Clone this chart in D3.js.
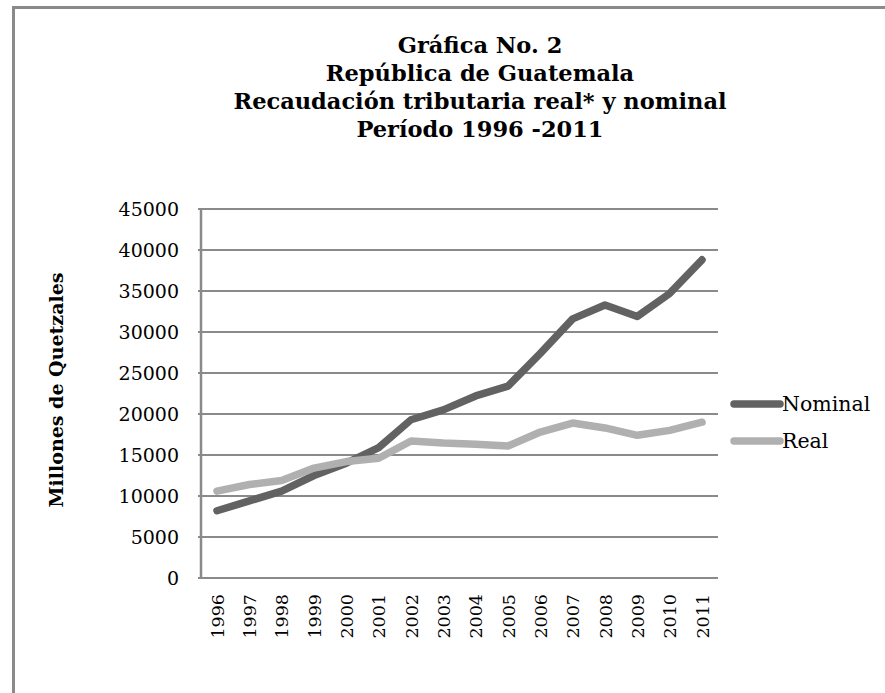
<!DOCTYPE html>
<html><head><meta charset="utf-8">
<script src="https://cdn.jsdelivr.net/npm/d3@7/dist/d3.min.js"></script>
<style>
html,body{margin:0;padding:0;background:#fff;}
svg{display:block;}
</style></head>
<body>
<script>
const years = ["1996","1997","1998","1999","2000","2001","2002","2003","2004","2005","2006","2007","2008","2009","2010","2011"];
const nominal = [8200,9400,10600,12500,14000,15900,19300,20500,22200,23400,27400,31600,33300,31900,34700,38800];
const real = [10600,11400,11900,13400,14200,14600,16700,16450,16300,16100,17800,18900,18300,17400,18000,19000];
const yTicks = [0,5000,10000,15000,20000,25000,30000,35000,40000,45000];
const titleLines = ["Gráfica No. 2","República de Guatemala","Recaudación tributaria real* y nominal","Período 1996 -2011"];
const seriesNames = ["Nominal","Real"];
const colors = ["#626262","#b0b0b0"];

const W = 885, H = 693;
const svg = d3.select("body").append("svg").attr("width", W).attr("height", H);
const serif = "'DejaVu Serif', serif";

// frame
svg.append("line").attr("x1",13.5).attr("x2",W).attr("y1",7.5).attr("y2",7.5).attr("stroke","#8a8a8a").attr("stroke-width",3);
svg.append("line").attr("x1",13.5).attr("x2",13.5).attr("y1",6).attr("y2",H).attr("stroke","#8a8a8a").attr("stroke-width",3);

// title
const title = svg.append("text").attr("text-anchor","middle").attr("font-family",serif)
  .attr("font-weight","bold").attr("font-size",22.5).attr("fill","#000");
titleLines.forEach((t,i)=>{
  title.append("tspan").attr("x",480).attr("y",53+i*28).text(t);
});

const x = d3.scalePoint().domain(years).range([217, 702]);
const y = d3.scaleLinear().domain([0,45000]).range([578, 209]);
const plotL = 201, plotR = 718;

// gridlines
svg.append("g").selectAll("line").data(yTicks).join("line")
  .attr("x1", plotL-3).attr("x2", plotR)
  .attr("y1", d=>y(d)).attr("y2", d=>y(d))
  .attr("stroke","#8a8a8a").attr("stroke-width",2);

// y axis line
svg.append("line").attr("x1",plotL).attr("x2",plotL).attr("y1",y(45000)).attr("y2",y(0)+1)
  .attr("stroke","#8a8a8a").attr("stroke-width",2.5);

// y tick labels
const yAxis = d3.axisLeft(y).tickValues(yTicks).tickSize(0).tickPadding(0).tickFormat(d3.format("d"));
const ya = svg.append("g").attr("transform",`translate(${plotL-22},0)`).call(yAxis);
ya.select(".domain").remove();
ya.selectAll("text").attr("font-family",serif).attr("font-size",19).attr("fill","#000").attr("dy","0.35em");

// x axis labels
const xAxis = d3.axisBottom(x).tickSize(0).tickPadding(0);
const xa = svg.append("g").attr("transform",`translate(0,${y(0)})`).call(xAxis);
xa.select(".domain").remove();
xa.selectAll("text").attr("font-family",serif).attr("font-size",17.5).attr("fill","#000")
  .attr("text-anchor","end").attr("transform","rotate(-90)")
  .attr("x",-16).attr("y",0).attr("dy","0.35em");

// y label
svg.append("text").attr("transform","translate(63,390) rotate(-90)")
  .attr("text-anchor","middle").attr("font-family",serif).attr("font-weight","bold")
  .attr("font-size",19).attr("fill","#000").text("Millones de Quetzales");

// lines
const line = d3.line().x((d,i)=>x(years[i])).y(d=>y(d));
[nominal, real].forEach((s,k)=>{
  svg.append("path").datum(s).attr("d", line).attr("fill","none")
    .attr("stroke", colors[k]).attr("stroke-width",7.5)
    .attr("stroke-linecap","round").attr("stroke-linejoin","round");
});

// legend
const lg = svg.append("g");
seriesNames.forEach((n,k)=>{
  const ly = 404 + k*37;
  lg.append("line").attr("x1",734).attr("x2",780).attr("y1",ly).attr("y2",ly)
    .attr("stroke",colors[k]).attr("stroke-width",7.5).attr("stroke-linecap","round");
  lg.append("text").attr("x",782).attr("y",ly).attr("dy","0.35em")
    .attr("font-family",serif).attr("font-size",20.5).attr("fill","#000").text(n);
});
</script>
</body></html>
